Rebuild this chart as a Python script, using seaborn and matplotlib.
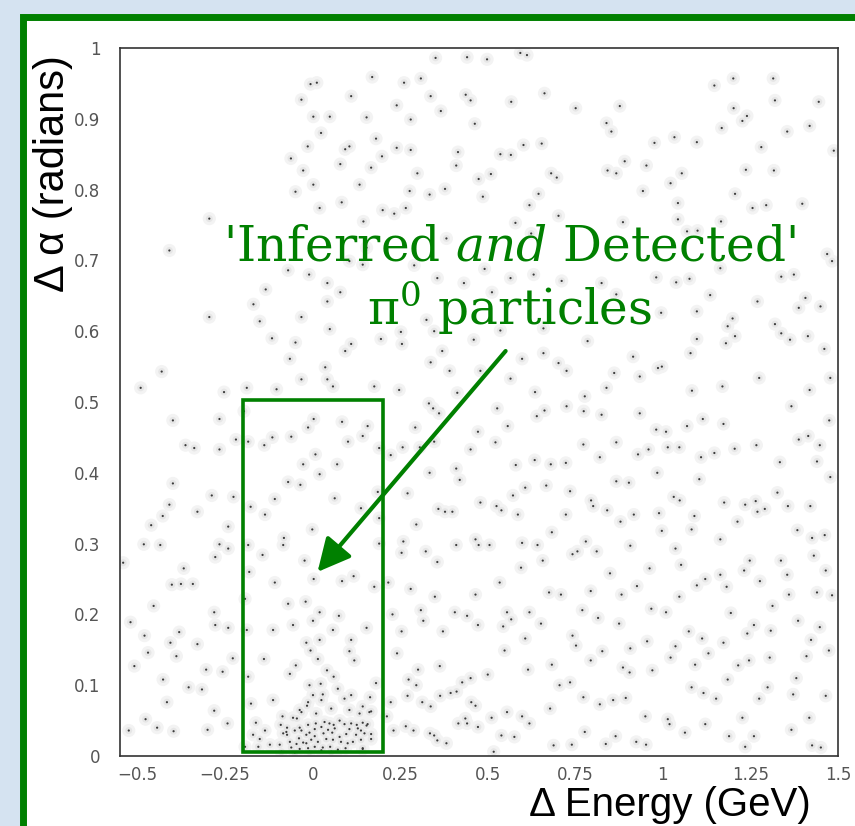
import matplotlib
matplotlib.use("Agg")
import matplotlib.pyplot as plt
from matplotlib.patches import Rectangle
from matplotlib.ticker import MultipleLocator, FuncFormatter
import pandas as pd
import seaborn as sns

# (delta energy [GeV], delta alpha [rad]), region by region
upper_left = [
    (-0.006, 0.949), (0.012, 0.951), (-0.032, 0.927), (0.110, 0.932), (0.002, 0.903),
    (0.049, 0.903), (0.024, 0.880), (-0.014, 0.861), (0.093, 0.857), (0.105, 0.861),
    (-0.062, 0.844), (0.079, 0.836), (-0.027, 0.827), (0.002, 0.807), (-0.049, 0.797),
    (0.083, 0.782), (0.020, 0.774), (-0.295, 0.759), (-0.409, 0.714), (0.105, 0.699),
    (-0.070, 0.686), (-0.010, 0.680), (0.042, 0.668), (0.079, 0.655), (-0.134, 0.659),
    (-0.169, 0.638), (0.042, 0.642), (-0.295, 0.620), (-0.032, 0.620), (-0.151, 0.614),
    (0.049, 0.603), (-0.116, 0.590), (-0.049, 0.584), (0.110, 0.582), (0.093, 0.572),
    (-0.065, 0.561), (0.036, 0.549), (-0.431, 0.543), (-0.032, 0.532), (0.042, 0.532),
    (0.058, 0.522), (-0.491, 0.520), (-0.253, 0.514), (-0.188, 0.520), (-0.103, 0.518),
]
upper_mid = [
    (0.351, 0.986), (0.441, 0.987), (0.498, 0.984), (0.593, 0.993), (0.612, 0.990),
    (0.170, 0.959), (0.261, 0.951), (0.309, 0.957), (0.337, 0.932), (0.437, 0.934),
    (0.451, 0.926), (0.240, 0.919), (0.567, 0.924), (0.662, 0.936), (0.751, 0.915),
    (0.154, 0.902), (0.280, 0.899), (0.366, 0.911), (0.463, 0.893), (0.181, 0.872),
    (0.240, 0.859), (0.280, 0.856), (0.198, 0.847), (0.415, 0.853), (0.536, 0.850),
    (0.566, 0.849), (0.602, 0.863), (0.654, 0.865), (0.410, 0.834), (0.167, 0.831),
    (0.299, 0.823), (0.509, 0.822), (0.474, 0.815), (0.697, 0.817), (0.681, 0.823),
    (0.134, 0.807), (0.277, 0.798), (0.334, 0.793), (0.378, 0.801), (0.486, 0.790),
    (0.645, 0.794), (0.619, 0.778), (0.200, 0.771), (0.233, 0.766), (0.266, 0.774),
    (0.702, 0.763), (0.579, 0.753), (0.145, 0.755), (0.382, 0.731), (0.624, 0.738),
    (0.154, 0.718), (0.290, 0.693), (0.356, 0.675), (0.491, 0.688), (0.631, 0.680),
    (0.565, 0.675), (0.432, 0.668), (0.512, 0.655), (0.711, 0.671), (0.143, 0.694),
    (0.325, 0.616), (0.252, 0.599), (0.195, 0.589), (0.255, 0.582), (0.347, 0.600),
    (0.460, 0.588), (0.536, 0.601), (0.659, 0.604), (0.785, 0.586), (0.370, 0.572),
    (0.337, 0.556), (0.391, 0.544), (0.479, 0.544), (0.598, 0.561), (0.659, 0.569),
    (0.702, 0.555), (0.725, 0.544), (0.565, 0.533), (0.635, 0.514), (0.176, 0.522),
    (0.247, 0.517), (0.413, 0.513), (0.777, 0.508),
]
upper_right = [
    (1.147, 0.947), (1.201, 0.957), (1.315, 0.957), (1.202, 0.915), (1.240, 0.904),
    (1.227, 0.897), (1.320, 0.926), (1.445, 0.924), (0.877, 0.918), (0.839, 0.894),
    (0.853, 0.882), (1.168, 0.887), (1.355, 0.882), (1.419, 0.890), (0.976, 0.866),
    (1.033, 0.874), (1.097, 0.867), (1.281, 0.860), (1.488, 0.855), (0.891, 0.840),
    (0.953, 0.834), (0.842, 0.827), (0.867, 0.823), (1.054, 0.823), (1.237, 0.828),
    (1.317, 0.827), (1.022, 0.809), (0.943, 0.798), (1.206, 0.794), (1.043, 0.781),
    (1.256, 0.774), (1.295, 0.778), (1.398, 0.780), (0.886, 0.754), (1.043, 0.758),
    (1.166, 0.755), (1.069, 0.741), (1.099, 0.742), (1.469, 0.709), (1.483, 0.699),
    (1.164, 0.689), (1.338, 0.677), (1.374, 0.680), (0.981, 0.676), (1.038, 0.669),
    (1.076, 0.674), (0.825, 0.668), (0.867, 0.652), (1.135, 0.651), (1.270, 0.642),
    (1.407, 0.647), (1.388, 0.633), (1.450, 0.635), (0.995, 0.626), (1.097, 0.628),
    (1.185, 0.607), (1.199, 0.618), (1.206, 0.593), (1.180, 0.583), (1.320, 0.610),
    (1.338, 0.597), (1.363, 0.588), (1.414, 0.593), (1.461, 0.575), (1.097, 0.589),
    (1.079, 0.569), (0.915, 0.564), (0.861, 0.541), (0.986, 0.548), (0.997, 0.550),
    (0.934, 0.536), (1.275, 0.534), (1.170, 0.522), (0.839, 0.520), (1.083, 0.516),
    (1.419, 0.517), (1.478, 0.534),
]
lower_left = [
    (-0.399, 0.474), (-0.266, 0.476), (-0.363, 0.439), (-0.338, 0.435), (-0.266, 0.433),
    (-0.219, 0.447), (-0.399, 0.385), (-0.288, 0.368), (-0.226, 0.366), (-0.409, 0.355),
    (-0.428, 0.339), (-0.329, 0.345), (-0.461, 0.326), (-0.241, 0.324), (-0.482, 0.299),
    (-0.435, 0.298), (-0.266, 0.299), (-0.241, 0.293), (-0.278, 0.281), (-0.541, 0.273),
    (-0.368, 0.265), (-0.402, 0.242), (-0.376, 0.243), (-0.342, 0.243), (-0.454, 0.212),
    (-0.281, 0.203), (-0.520, 0.189), (-0.278, 0.185), (-0.241, 0.181), (-0.480, 0.170),
    (-0.381, 0.175), (-0.406, 0.160), (-0.329, 0.158), (-0.470, 0.146), (-0.389, 0.141),
    (-0.509, 0.127), (-0.304, 0.122), (-0.228, 0.138), (-0.427, 0.108), (-0.257, 0.119),
    (-0.354, 0.097), (-0.316, 0.094), (-0.416, 0.076), (-0.281, 0.064), (-0.477, 0.052),
    (-0.444, 0.040), (-0.397, 0.035), (-0.525, 0.036), (-0.300, 0.037), (-0.243, 0.046),
]
in_window = [
    (-0.196, 0.487), (0.003, 0.476), (-0.013, 0.464), (0.084, 0.472), (-0.115, 0.450),
    (-0.061, 0.451), (-0.138, 0.439), (-0.184, 0.444), (0.101, 0.444), (0.008, 0.426),
    (-0.027, 0.412), (0.020, 0.398), (0.070, 0.412), (-0.070, 0.387), (-0.035, 0.383),
    (-0.108, 0.363), (0.063, 0.364), (-0.177, 0.352), (-0.136, 0.341), (-0.001, 0.320),
    (-0.082, 0.308), (-0.084, 0.298), (-0.184, 0.298), (-0.143, 0.284), (-0.023, 0.276),
    (-0.181, 0.260), (0.003, 0.250), (-0.108, 0.245), (0.084, 0.247), (0.117, 0.254),
    (-0.193, 0.222), (-0.070, 0.215), (-0.020, 0.218), (0.020, 0.203), (0.075, 0.198),
    (0.001, 0.191), (-0.056, 0.185), (-0.113, 0.178), (0.058, 0.178), (-0.188, 0.178),
    (-0.018, 0.160), (0.020, 0.164), (0.110, 0.164), (-0.006, 0.149), (0.105, 0.148),
    (0.119, 0.135), (0.015, 0.137), (-0.139, 0.137), (-0.048, 0.128), (-0.065, 0.116),
    (0.041, 0.121), (0.060, 0.112), (-0.184, 0.112), (-0.009, 0.100), (0.023, 0.102),
    (0.072, 0.095), (0.110, 0.086), (0.001, 0.086), (0.029, 0.087), (-0.013, 0.076),
    (0.025, 0.079), (-0.113, 0.079), (-0.176, 0.074), (0.053, 0.067), (-0.032, 0.062),
    (-0.086, 0.056), (-0.056, 0.054), (0.010, 0.060), (-0.162, 0.047), (-0.136, 0.036),
    (-0.075, 0.034), (0.157, 0.466), (0.143, 0.452), (0.190, 0.435), (0.186, 0.373),
    (0.190, 0.336), (0.190, 0.300), (0.138, 0.350), (0.176, 0.239), (0.154, 0.181),
    (0.181, 0.103), (0.164, 0.083), (0.162, 0.062), (0.143, 0.047), (0.154, 0.043),
    (0.138, 0.036), (0.167, 0.024), (0.143, 0.010),
]
core = [
    (-0.045, 0.053), (-0.091, 0.044), (-0.073, 0.040), (-0.037, 0.040), (-0.013, 0.044),
    (0.009, 0.046), (0.034, 0.048), (0.048, 0.046), (0.060, 0.044), (0.077, 0.050),
    (0.091, 0.045), (0.110, 0.046), (0.126, 0.044), (0.157, 0.045), (-0.051, 0.036),
    (-0.032, 0.036), (-0.009, 0.033), (0.006, 0.038), (0.025, 0.041), (0.044, 0.037),
    (0.063, 0.039), (0.105, 0.038), (0.129, 0.039), (-0.170, 0.030), (-0.084, 0.032),
    (-0.073, 0.030), (-0.039, 0.025), (-0.018, 0.030), (0.006, 0.028), (0.031, 0.032),
    (0.056, 0.033), (0.077, 0.027), (0.096, 0.031), (0.124, 0.030), (0.148, 0.032),
    (0.167, 0.031), (-0.065, 0.020), (-0.046, 0.017), (-0.027, 0.019), (-0.018, 0.018),
    (-0.004, 0.023), (0.015, 0.020), (0.039, 0.024), (0.058, 0.023), (0.081, 0.020),
    (0.100, 0.018), (0.115, 0.020), (0.138, 0.023), (-0.155, 0.013), (-0.122, 0.016),
    (-0.094, 0.016), (-0.061, 0.012), (-0.037, 0.010), (-0.013, 0.011), (0.006, 0.013),
    (0.029, 0.012), (0.050, 0.013), (0.072, 0.009), (0.094, 0.011), (0.143, 0.011),
    (-0.089, 0.006), (-0.051, 0.005), (-0.009, 0.006), (0.025, 0.008), (0.053, 0.006),
    (-0.193, 0.013), (-0.151, 0.024), (-0.016, 0.071), (0.105, 0.065), (0.143, 0.070),
    (0.167, 0.063), (0.134, 0.060), (-0.037, 0.065), (0.091, 0.081),
]
lower_mid = [
    (0.223, 0.425), (0.257, 0.436), (0.306, 0.436), (0.293, 0.464), (0.334, 0.400),
    (0.347, 0.444), (0.332, 0.498), (0.344, 0.491), (0.361, 0.484), (0.410, 0.406),
    (0.420, 0.390), (0.472, 0.458), (0.451, 0.433), (0.522, 0.443), (0.557, 0.466),
    (0.527, 0.491), (0.580, 0.411), (0.607, 0.379), (0.572, 0.368), (0.634, 0.418),
    (0.680, 0.412), (0.640, 0.480), (0.662, 0.488), (0.725, 0.494), (0.774, 0.487),
    (0.723, 0.414), (0.773, 0.440), (0.667, 0.382), (0.735, 0.374), (0.795, 0.361),
    (0.801, 0.353), (0.271, 0.371), (0.359, 0.349), (0.378, 0.345), (0.399, 0.345),
    (0.479, 0.358), (0.525, 0.353), (0.539, 0.347), (0.586, 0.341), (0.723, 0.341),
    (0.683, 0.316), (0.296, 0.327), (0.259, 0.303), (0.254, 0.287), (0.323, 0.289),
    (0.356, 0.274), (0.410, 0.298), (0.465, 0.306), (0.474, 0.298), (0.505, 0.298),
    (0.598, 0.301), (0.642, 0.298), (0.657, 0.276), (0.595, 0.266), (0.742, 0.285),
    (0.756, 0.289), (0.780, 0.303), (0.811, 0.289), (0.216, 0.245), (0.280, 0.236),
    (0.349, 0.225), (0.465, 0.228), (0.534, 0.245), (0.675, 0.231), (0.709, 0.228),
    (0.794, 0.233), (0.228, 0.200), (0.309, 0.206), (0.316, 0.191), (0.406, 0.203),
    (0.441, 0.198), (0.472, 0.185), (0.544, 0.183), (0.555, 0.203), (0.567, 0.193),
    (0.619, 0.203), (0.652, 0.187), (0.607, 0.166), (0.770, 0.206), (0.254, 0.176),
    (0.372, 0.176), (0.241, 0.145), (0.742, 0.170), (0.752, 0.156), (0.548, 0.149),
    (0.794, 0.135), (0.301, 0.122), (0.363, 0.127), (0.274, 0.108), (0.296, 0.100),
    (0.427, 0.104), (0.451, 0.110), (0.500, 0.115), (0.615, 0.122), (0.683, 0.129),
    (0.705, 0.100), (0.735, 0.104), (0.773, 0.083), (0.223, 0.076), (0.271, 0.085),
    (0.313, 0.076), (0.337, 0.070), (0.364, 0.085), (0.394, 0.089), (0.411, 0.091),
    (0.453, 0.076), (0.465, 0.071), (0.212, 0.056), (0.231, 0.036), (0.266, 0.042),
    (0.288, 0.036), (0.335, 0.032), (0.347, 0.029), (0.356, 0.022), (0.382, 0.018),
    (0.416, 0.046), (0.441, 0.046), (0.472, 0.041), (0.436, 0.053), (0.511, 0.054),
    (0.555, 0.062), (0.598, 0.056), (0.619, 0.046), (0.539, 0.029), (0.576, 0.027),
    (0.678, 0.067), (0.777, 0.034), (0.688, 0.015), (0.740, 0.016), (0.517, 0.006),
]
lower_right = [
    (0.825, 0.482), (0.934, 0.484), (1.367, 0.494), (1.475, 0.474), (1.388, 0.447),
    (1.415, 0.452), (1.448, 0.439), (1.440, 0.416), (1.334, 0.415), (1.478, 0.394),
    (0.981, 0.461), (1.009, 0.458), (1.069, 0.466), (1.114, 0.476), (1.173, 0.469),
    (1.267, 0.439), (1.205, 0.434), (1.147, 0.428), (1.109, 0.422), (1.047, 0.436),
    (1.014, 0.436), (0.959, 0.433), (0.929, 0.426), (0.867, 0.443), (0.820, 0.422),
    (0.984, 0.400), (1.104, 0.391), (0.867, 0.388), (0.903, 0.386), (1.327, 0.372),
    (1.031, 0.366), (1.048, 0.361), (1.090, 0.339), (1.175, 0.358), (1.235, 0.355),
    (1.265, 0.360), (1.270, 0.345), (1.291, 0.349), (1.357, 0.353), (1.421, 0.353),
    (0.841, 0.347), (0.879, 0.331), (0.917, 0.341), (0.989, 0.343), (1.213, 0.331),
    (1.082, 0.320), (0.997, 0.318), (1.384, 0.319), (1.426, 0.308), (1.462, 0.312),
    (1.164, 0.306), (0.907, 0.297), (1.036, 0.293), (1.052, 0.270), (1.431, 0.283),
    (0.962, 0.265), (0.849, 0.258), (1.232, 0.262), (1.248, 0.276), (1.337, 0.276),
    (1.355, 0.256), (1.277, 0.247), (1.465, 0.262), (1.164, 0.256), (1.182, 0.239),
    (1.121, 0.250), (1.097, 0.241), (0.926, 0.240), (0.882, 0.228), (1.047, 0.225),
    (1.360, 0.228), (1.440, 0.231), (1.483, 0.227), (1.313, 0.212), (1.194, 0.202),
    (0.967, 0.208), (1.009, 0.203), (0.815, 0.195), (0.875, 0.187), (1.386, 0.191),
    (1.260, 0.185), (1.241, 0.173), (1.308, 0.177), (1.448, 0.182), (1.423, 0.164),
    (1.074, 0.176), (1.112, 0.166), (0.955, 0.162), (0.907, 0.152), (1.036, 0.155),
    (1.173, 0.160), (0.827, 0.148), (1.474, 0.149), (1.130, 0.145), (1.022, 0.139),
    (1.410, 0.141), (1.246, 0.135), (1.305, 0.139), (0.886, 0.125), (0.905, 0.118),
    (0.970, 0.121), (1.092, 0.129), (1.215, 0.128), (1.185, 0.108), (1.082, 0.097),
    (1.116, 0.089), (1.152, 0.081), (1.299, 0.097), (1.381, 0.110), (1.372, 0.087),
    (1.465, 0.085), (1.275, 0.081), (0.820, 0.073), (0.858, 0.079), (0.894, 0.082),
    (0.950, 0.056), (1.014, 0.052), (1.019, 0.045), (1.121, 0.045), (1.227, 0.054),
    (1.418, 0.054), (1.063, 0.033), (1.189, 0.028), (1.260, 0.028), (1.367, 0.037),
    (0.865, 0.028), (0.837, 0.017), (0.924, 0.020), (0.952, 0.016), (1.426, 0.015),
    (1.451, 0.012), (1.235, 0.013),
]

# selection window drawn on the slide
window_e = (-0.2, 0.2)
window_a = (0.005, 0.503)

GREEN = "#008000"

events = pd.DataFrame(
    upper_left + upper_mid + upper_right + lower_left + in_window + core
    + lower_mid + lower_right,
    columns=["dE", "dalpha"],
)

sns.set_theme(style="white")
plt.rcParams["font.family"] = ["DejaVu Sans"]
plt.rcParams["mathtext.fontset"] = "dejavuserif"

fig = plt.figure(figsize=(8.55, 8.26), dpi=100, facecolor="#d5e3f1")

# slide frame: white panel with a thick green border (runs off right/bottom)
fig.add_artist(Rectangle((22.5 / 855, -0.1), 1.2, 1.1 - 16.5 / 826,
                         transform=fig.transFigure, facecolor="white",
                         edgecolor=GREEN, linewidth=5, zorder=0))

ax = fig.add_axes([120 / 855, 70 / 826, 718 / 855, 708 / 826])
ax.set_facecolor("white")

# soft grey halo around each dot (jpeg look) then the dot itself
sns.scatterplot(data=events, x="dE", y="dalpha", ax=ax, s=90, color="#f3f3f3",
                edgecolor="none", legend=False, zorder=1)
sns.scatterplot(data=events, x="dE", y="dalpha", ax=ax, s=25, color="#e6e6e6",
                edgecolor="none", legend=False, zorder=1)
sns.scatterplot(data=events, x="dE", y="dalpha", ax=ax, s=2.5, color="#3a3a3a",
                edgecolor="none", legend=False, zorder=2)

ax.set_xlim(-0.55, 1.5)
ax.set_ylim(0, 1)

for sp in ax.spines.values():
    sp.set_color("#333333")
    sp.set_linewidth(1.2)

ax.xaxis.set_major_locator(MultipleLocator(0.25))
ax.xaxis.set_minor_locator(MultipleLocator(0.05))
ax.yaxis.set_major_locator(MultipleLocator(0.1))
ax.yaxis.set_minor_locator(MultipleLocator(0.02))
fmt = FuncFormatter(lambda v, p: f"{v:g}".replace("-", "\u2212"))
ax.xaxis.set_major_formatter(fmt)
ax.yaxis.set_major_formatter(fmt)

ax.tick_params(which="both", direction="in", color="#222222", width=1.1,
               labelsize=12, labelcolor="#555555", top=False, right=False)
ax.tick_params(axis="x", which="major", length=10, pad=7)
ax.tick_params(axis="x", which="minor", length=5)
ax.tick_params(axis="y", which="major", length=9.5, pad=14)
ax.tick_params(axis="y", which="minor", length=5)

ax.set_xlabel("\u0394 Energy (GeV)", fontsize=29, family="Liberation Sans",
              color="black", loc="right")
ax.xaxis.set_label_coords(0.9625, -0.042)
ax.set_ylabel("\u0394 \u03b1 (radians)", fontsize=30, family="Liberation Sans",
              color="black", loc="top")
ax.yaxis.set_label_coords(-0.066, 0.99)

# selection window
ax.add_patch(Rectangle((window_e[0], window_a[0]), window_e[1] - window_e[0],
                       window_a[1] - window_a[0], fill=False, edgecolor=GREEN,
                       linewidth=2.6, zorder=4, clip_on=False))

# annotation
ax.text(0.5625, 0.70, "'Inferred $\\mathit{and}$ Detected'", color=GREEN,
        fontsize=35, family="DejaVu Serif", ha="center", va="baseline", zorder=5)
ax.text(0.5625, 0.609, "\u03c0$^{\\mathrm{0}}$ particles", color=GREEN,
        fontsize=35, family="DejaVu Serif", ha="center", va="baseline", zorder=5)
ax.annotate("", xy=(0.014, 0.26), xytext=(0.551, 0.572),
            arrowprops=dict(arrowstyle="-|>,head_length=1.0,head_width=0.5",
                            color=GREEN, lw=3, mutation_scale=20,
                            shrinkA=0, shrinkB=0), zorder=5)

fig.savefig("out.png", dpi=100, facecolor=fig.get_facecolor())
